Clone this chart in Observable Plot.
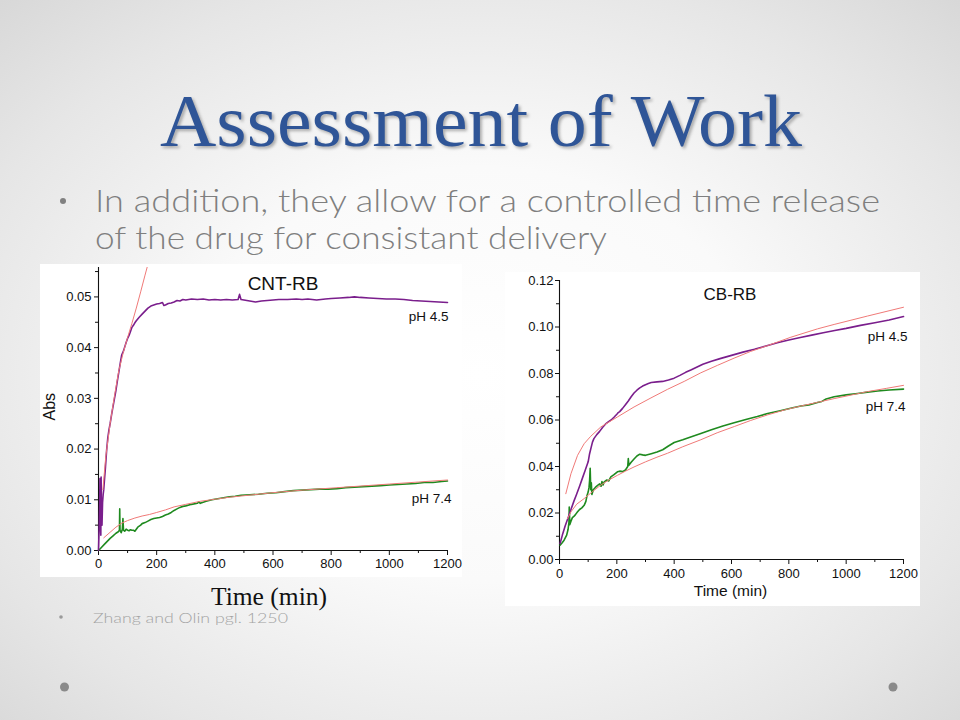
<!DOCTYPE html>
<html>
<head>
<meta charset="utf-8">
<script src="https://cdn.jsdelivr.net/npm/d3@7"></script>
<script src="https://cdn.jsdelivr.net/npm/@observablehq/plot@0.6"></script>
<style>
  html, body { margin: 0; padding: 0; }
  #slide {
    position: relative; width: 960px; height: 720px; overflow: hidden;
    background: radial-gradient(ellipse 72% 72% at 50% 52%, #ffffff 0%, #fafafa 40%, #e6e6e6 78%, #d8d8d8 100%);
  }
  #deco { position: absolute; left: 0; top: 0; }
  .chart { position: absolute; }
  .chart svg { display: block; background: #fff; max-width: none; }
</style>
</head>
<body>
<div id="slide">
  <svg id="deco" width="960" height="720">
    <text x="160" y="146" font-family="Liberation Serif, 'DejaVu Serif', serif" font-size="74" fill="#2F5597"
          textLength="642" lengthAdjust="spacingAndGlyphs" style="filter: drop-shadow(2px 2px 1.5px rgba(0,0,0,0.3))">Assessment of Work</text>
    <circle cx="63" cy="201" r="3" fill="#808080"/>
    <text x="95" y="212" font-family="Lato, 'Noto Sans', sans-serif" font-weight="300" font-size="32" fill="#7f7f7f"
          textLength="785" lengthAdjust="spacingAndGlyphs">In addition, they allow for a controlled time release</text>
    <text x="95" y="249" font-family="Lato, 'Noto Sans', sans-serif" font-weight="300" font-size="32" fill="#7f7f7f"
          textLength="512" lengthAdjust="spacingAndGlyphs">of the drug for consistant delivery</text>
    <text x="211" y="605" font-family="Liberation Serif, serif" font-size="25" fill="#111"
          textLength="116" lengthAdjust="spacingAndGlyphs">Time (min)</text>
    <circle cx="61" cy="617" r="1.8" fill="#9a9a9a"/>
    <text x="93" y="623" font-family="Lato, 'Noto Sans', sans-serif" font-weight="300" font-size="14" fill="#a3a3a3"
          textLength="195" lengthAdjust="spacingAndGlyphs">Zhang and Olin pgl. 1250</text>
    <circle cx="64.5" cy="687" r="4.5" fill="#8a8a8a"/>
    <circle cx="893" cy="687" r="4.5" fill="#8a8a8a"/>
  </svg>
  <div class="chart" id="left" style="left:40px; top:264px;"></div>
  <div class="chart" id="right" style="left:505px; top:272px;"></div>
</div>
<script>
// ---------- data ----------
const purple = "#7a1e8c", green = "#1f8a1f", fitRed = "#f07a78";

const xMajor = [0, 200, 400, 600, 800, 1000, 1200];
const xMinor = [100, 300, 500, 700, 900, 1100];
const cntYMajor = [0, 0.01, 0.02, 0.03, 0.04, 0.05];
const cntYMinor = [0.005, 0.015, 0.025, 0.035, 0.045, 0.055];
const cbYMajor = [0, 0.02, 0.04, 0.06, 0.08, 0.10, 0.12];
const cbYMinor = [0.01, 0.03, 0.05, 0.07, 0.09, 0.11];

// CNT-RB, pH 4.5 (time min, Abs)
const cnt45 = [[0,0.000],[2,0.004],[4,0.009],[5,0.0142],[6,0.006],[8,0.003],[9,0.0145],[10,0.008],[12,0.005],[14,0.0095],[16,0.011],[18,0.012],[20,0.0135],[24,0.0165],[28,0.0198],[32,0.0222],[36,0.0238],[40,0.0250],[45,0.0268],[50,0.0284],[55,0.0300],[60,0.0316],[65,0.0335],[70,0.0352],[75,0.0370],[80,0.0386],[85,0.0392],[90,0.0401],[95,0.0410],[100,0.0418],[105,0.0424],[110,0.0432],[115,0.0440],[120,0.0444],[125,0.0449],[130,0.0453],[140,0.0460],[150,0.0466],[160,0.0472],[170,0.0478],[180,0.0482],[190,0.0484],[200,0.0486],[210,0.0487],[220,0.0489],[225,0.0483],[230,0.0484],[240,0.0487],[250,0.0488],[260,0.0490],[270,0.0493],[280,0.0492],[290,0.0495],[300,0.0494],[320,0.0496],[340,0.0495],[360,0.0496],[380,0.0494],[400,0.0495],[420,0.0494],[440,0.0495],[460,0.0494],[480,0.0495],[485,0.0505],[490,0.0495],[500,0.0494],[520,0.0492],[540,0.0490],[560,0.0492],[580,0.0493],[600,0.0494],[620,0.0495],[650,0.0495],[680,0.0496],[700,0.0495],[720,0.0496],[750,0.0494],[780,0.0496],[800,0.0497],[830,0.0498],[860,0.0499],[880,0.0500],[900,0.0499],[930,0.0498],[960,0.0497],[990,0.0496],[1020,0.0496],[1050,0.0495],[1080,0.0493],[1110,0.0492],[1140,0.0491],[1170,0.0490],[1200,0.0489]];
const cnt45fit = [[15,0.012],[25,0.0185],[40,0.0250],[55,0.0305],[70,0.0355],[85,0.0390],[100,0.0420],[115,0.0448],[130,0.0478],[145,0.0510],[160,0.0543],[168,0.0560]];

// CNT-RB, pH 7.4
const cnt74 = [[0,0.0000],[10,0.0006],[20,0.0012],[30,0.0018],[40,0.0024],[50,0.0029],[60,0.0034],[68,0.0037],[72,0.0040],[73,0.0082],[74,0.0040],[78,0.0035],[82,0.0042],[84,0.0063],[86,0.0040],[90,0.0038],[95,0.0042],[100,0.0040],[105,0.0039],[110,0.0041],[115,0.0040],[120,0.0040],[125,0.0038],[130,0.0042],[135,0.0046],[140,0.0048],[145,0.0050],[150,0.0053],[160,0.0055],[170,0.0058],[180,0.0061],[190,0.0063],[200,0.0064],[210,0.0065],[220,0.0067],[230,0.0070],[240,0.0072],[250,0.0075],[260,0.0079],[270,0.0082],[280,0.0085],[290,0.0087],[300,0.0088],[320,0.0091],[340,0.0093],[345,0.0096],[350,0.0093],[370,0.0097],[390,0.0100],[410,0.0102],[430,0.0104],[450,0.0106],[470,0.0107],[490,0.0109],[520,0.0110],[550,0.0111],[580,0.0113],[610,0.0114],[640,0.0116],[670,0.0118],[700,0.0119],[730,0.0120],[760,0.0121],[790,0.0121],[820,0.0122],[850,0.0124],[880,0.0125],[910,0.0126],[940,0.0127],[970,0.0128],[1000,0.0129],[1030,0.0130],[1060,0.0131],[1090,0.0132],[1120,0.0134],[1150,0.0134],[1180,0.0136],[1200,0.0137]];
const cnt74fit = [[18,0.0025],[40,0.0036],[60,0.0046],[80,0.0054],[100,0.0059],[125,0.0064],[150,0.0068],[175,0.0071],[200,0.0075],[230,0.0080],[260,0.0086],[300,0.0091],[350,0.0097],[400,0.0101],[450,0.0105],[500,0.0108],[600,0.0114],[700,0.0119],[800,0.0123],[900,0.0127],[1000,0.0131],[1100,0.0135],[1200,0.0139]];

// CB-RB, pH 4.5
const cb45 = [[2,0.0069],[10,0.0105],[20,0.0145],[30,0.0180],[40,0.0215],[50,0.0250],[60,0.0282],[70,0.0315],[80,0.0350],[90,0.0385],[100,0.0420],[105,0.0455],[110,0.0480],[115,0.0505],[120,0.0520],[130,0.0537],[140,0.0551],[150,0.0568],[160,0.0582],[170,0.0592],[180,0.0600],[190,0.0612],[200,0.0625],[205,0.0632],[210,0.0636],[220,0.0650],[230,0.0666],[240,0.0682],[250,0.0700],[260,0.0716],[270,0.0728],[280,0.0738],[290,0.0746],[300,0.0752],[310,0.0757],[320,0.0761],[340,0.0764],[360,0.0766],[380,0.0772],[400,0.0780],[420,0.0792],[440,0.0805],[460,0.0816],[480,0.0828],[500,0.0840],[530,0.0853],[560,0.0864],[600,0.0878],[640,0.0892],[680,0.0904],[720,0.0918],[760,0.0932],[800,0.0944],[840,0.0955],[880,0.0965],[920,0.0975],[960,0.0985],[1000,0.0994],[1050,0.1007],[1100,0.1018],[1150,0.1030],[1200,0.1045]];
const cb45fit = [[22,0.0283],[40,0.0369],[63,0.0448],[86,0.0498],[109,0.0530],[144,0.0570],[202,0.0613],[260,0.0656],[319,0.0695],[377,0.0732],[435,0.0766],[493,0.0803],[551,0.0835],[609,0.0866],[667,0.0895],[726,0.0920],[807,0.0956],[900,0.0992],[958,0.1011],[1074,0.1047],[1200,0.1085]];

// CB-RB, pH 7.4
const cb74 = [[2,0.0062],[8,0.0070],[16,0.0083],[25,0.0105],[30,0.0130],[33,0.0160],[34,0.0226],[36,0.0150],[40,0.0165],[45,0.0180],[50,0.0185],[55,0.0192],[63,0.0205],[70,0.0215],[78,0.0222],[86,0.0233],[92,0.0250],[96,0.0275],[100,0.0290],[103,0.0310],[105,0.0340],[107,0.0392],[109,0.0300],[111,0.0330],[113,0.0280],[118,0.0300],[125,0.0310],[133,0.0319],[140,0.0325],[145,0.0315],[148,0.0335],[152,0.0320],[156,0.0334],[165,0.0342],[172,0.0338],[179,0.0355],[190,0.0365],[202,0.0377],[210,0.0380],[220,0.0378],[230,0.0385],[238,0.0400],[240,0.0434],[242,0.0405],[250,0.0418],[260,0.0432],[270,0.0445],[280,0.0453],[290,0.0450],[300,0.0448],[320,0.0455],[340,0.0462],[360,0.0472],[380,0.0488],[400,0.0503],[430,0.0515],[460,0.0528],[493,0.0542],[530,0.0558],[570,0.0574],[609,0.0588],[650,0.0602],[690,0.0615],[726,0.0628],[770,0.0640],[810,0.0652],[842,0.0660],[870,0.0665],[900,0.0675],[915,0.0680],[930,0.0690],[958,0.0700],[1000,0.0708],[1040,0.0714],[1074,0.0720],[1110,0.0725],[1150,0.0729],[1200,0.0733]];
const cb74fit = [[28,0.0176],[40,0.0205],[60,0.0238],[86,0.0262],[115,0.0292],[144,0.0320],[172,0.0342],[202,0.0362],[230,0.0380],[260,0.0398],[300,0.0420],[340,0.0440],[377,0.0457],[430,0.0485],[493,0.0515],[550,0.0545],[610,0.0572],[667,0.0598],[726,0.0622],[790,0.0645],[842,0.0660],[900,0.0676],[958,0.0692],[1020,0.0708],[1074,0.0722],[1140,0.0736],[1200,0.0749]];

// ---------- charts ----------
const font = "'Liberation Sans', Arial, Helvetica, sans-serif";
const X = d => d[0], Y = d => d[1];
const fmt2 = d3.format(".2f");
const fmtInt = d3.format("d");
const blank = () => "";

function axes(yMajor, yMinor, o) {
  return [
    Plot.axisX({ticks: xMinor, tickSize: 3, tickFormat: blank, label: null}),
    Plot.axisX({ticks: xMajor, tickSize: o.xTick, tickPadding: o.xPad, tickFormat: fmtInt, label: null}),
    Plot.axisY({ticks: yMinor, tickSize: 3, tickFormat: blank, label: null}),
    Plot.axisY({ticks: yMajor, tickSize: 4, tickPadding: o.yPad, tickFormat: fmt2, label: null}),
    Plot.ruleX([0], {stroke: "#111", strokeWidth: 1.1}),
    Plot.ruleY([0], {stroke: "#111", strokeWidth: 1.1})
  ];
}

const leftChart = Plot.plot({
  width: 422, height: 313,
  marginLeft: 58, marginRight: 15, marginTop: 3, marginBottom: 27,
  style: {fontFamily: font, fontSize: "13px", color: "#111", background: "#fff", overflow: "visible"},
  x: {domain: [0, 1200]},
  y: {domain: [0, 0.0558]},
  marks: [
    ...axes(cntYMajor, cntYMinor, {xTick: 5, xPad: 3, yPad: 3}),
    Plot.line(cnt74, {x: X, y: Y, stroke: green, strokeWidth: 1.6}),
    Plot.line(cnt45, {x: X, y: Y, stroke: purple, strokeWidth: 1.6}),
    Plot.line(cnt74fit, {x: X, y: Y, stroke: fitRed, strokeWidth: 1}),
    Plot.line(cnt45fit, {x: X, y: Y, stroke: fitRed, strokeWidth: 1, clip: true}),
    Plot.text(["CNT-RB"], {frameAnchor: "top", dx: 10, dy: 9, fontSize: 19, fill: "#111"}),
    Plot.text(["Abs"], {frameAnchor: "left", rotate: -90, dx: -49, dy: 11.5, fontSize: 16, fill: "#111"}),
    Plot.text([cnt45[cnt45.length - 1]], {x: X, y: Y, text: () => "pH 4.5", textAnchor: "end", dx: 1, dy: 14.5, fontSize: 13.5, fill: "#111"}),
    Plot.text([cnt74[cnt74.length - 1]], {x: X, y: Y, text: () => "pH 7.4", textAnchor: "end", dx: 4, dy: 17.5, fontSize: 13.5, fill: "#111"})
  ]
});

const rightChart = Plot.plot({
  width: 415, height: 334,
  marginLeft: 54, marginRight: 17, marginTop: 8, marginBottom: 47,
  style: {fontFamily: font, fontSize: "13px", color: "#111", background: "#fff", overflow: "visible"},
  x: {domain: [0, 1200]},
  y: {domain: [0, 0.12]},
  marks: [
    ...axes(cbYMajor, cbYMinor, {xTick: 5, xPad: 4, yPad: 2}),
    Plot.line(cb74, {x: X, y: Y, stroke: green, strokeWidth: 1.6}),
    Plot.line(cb45, {x: X, y: Y, stroke: purple, strokeWidth: 1.6}),
    Plot.line(cb74fit, {x: X, y: Y, stroke: fitRed, strokeWidth: 1}),
    Plot.line(cb45fit, {x: X, y: Y, stroke: fitRed, strokeWidth: 1}),
    Plot.text(["CB-RB"], {frameAnchor: "top", dx: -1.5, dy: 7, fontSize: 17, fill: "#111"}),
    Plot.text(["Time (min)"], {frameAnchor: "bottom", dx: -1, dy: 36, fontSize: 15.5, fill: "#111"}),
    Plot.text([cb45[cb45.length - 1]], {x: X, y: Y, text: () => "pH 4.5", textAnchor: "end", dx: 4, dy: 20, fontSize: 13.5, fill: "#111"}),
    Plot.text([cb74[cb74.length - 1]], {x: X, y: Y, text: () => "pH 7.4", textAnchor: "end", dx: 2, dy: 18, fontSize: 13.5, fill: "#111"})
  ]
});

document.getElementById("left").appendChild(leftChart);
document.getElementById("right").appendChild(rightChart);
</script>
</body>
</html>
